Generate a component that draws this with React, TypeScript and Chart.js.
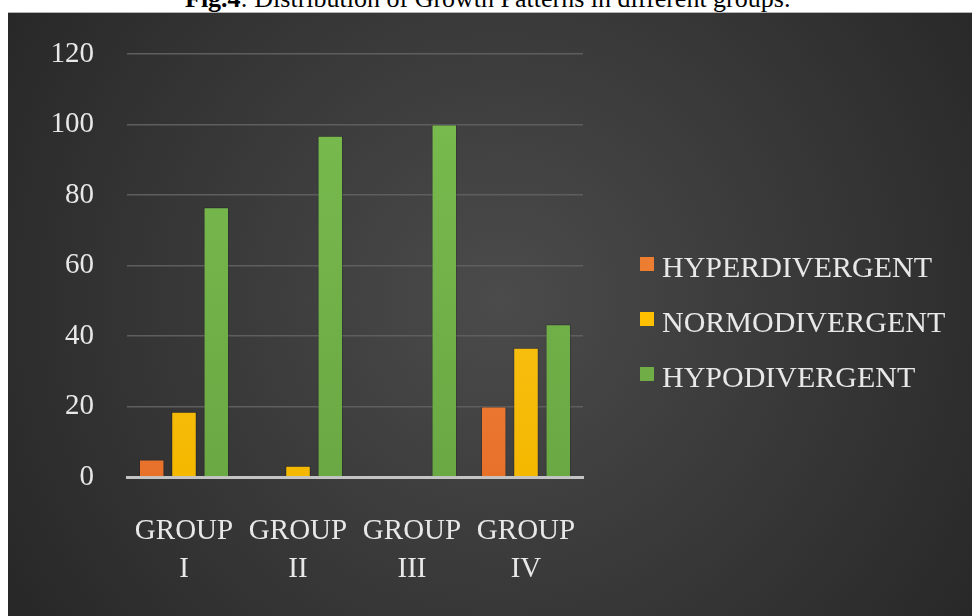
import React, { useEffect, useRef } from 'react';
import { Chart, registerables } from 'chart.js';

Chart.register(...registerables);

const categories = [['GROUP', 'I'], ['GROUP', 'II'], ['GROUP', 'III'], ['GROUP', 'IV']];
const seriesNames = ['HYPERDIVERGENT', 'NORMODIVERGENT', 'HYPODIVERGENT'];
const hyperValues = [5, 0, 0, 20];
const normoValues = [18.5, 3.2, 0, 36.7];
const hypoValues = [76.5, 96.8, 100, 43.3];
const yMin = 0;
const yMax = 120;
const yStep = 20;
const titleBold = 'Fig.4';
const titleRest = ': Distribution of Growth Patterns in different groups.';

const FONT = '"Liberation Serif"';
const TEXT = '#e8e8e8';

const seriesColors = [
  { base: '#ed7d31', top: '#f38f4e', bottom: '#e8712a' },
  { base: '#ffc000', top: '#ffca2e', bottom: '#f4b800' },
  { base: '#70ad47', top: '#7bbd50', bottom: '#6aa843' },
];

function gradFill(idx: number) {
  return (ctx: any) => {
    const chart = ctx.chart;
    const area = chart.chartArea;
    const c = seriesColors[idx];
    if (!area) return c.base;
    const g = chart.ctx.createLinearGradient(0, area.top, 0, area.bottom);
    g.addColorStop(0, c.top);
    g.addColorStop(1, c.bottom);
    return g;
  };
}

const bgPlugin = {
  id: 'darkBg',
  beforeDraw(chart: any) {
    const { ctx, width, height } = chart;
    ctx.save();
    const cx = width * 0.51;
    const cy = height * 0.475;
    const g = ctx.createRadialGradient(cx, cy, 0, cx, cy, 600);
    g.addColorStop(0, '#4b4b4b');
    g.addColorStop(1, '#262626');
    ctx.fillStyle = g;
    ctx.fillRect(0, 0, width, height);
    ctx.restore();
  },
};

const legendPlugin = {
  id: 'sideLegend',
  afterDraw(chart: any) {
    const { ctx } = chart;
    const x0 = 632;
    const rows = [254, 309, 364];
    ctx.save();
    ctx.font = `30px ${FONT}`;
    ctx.textBaseline = 'alphabetic';
    chart.data.datasets.forEach((ds: any, i: number) => {
      const y = rows[i];
      ctx.fillStyle = seriesColors[i].base;
      ctx.fillRect(x0, y - 10, 14, 14);
      ctx.fillStyle = TEXT;
      ctx.fillText(ds.label, x0 + 22, y + 10);
    });
    ctx.restore();
  },
};

export default function App() {
  const ref = useRef<HTMLCanvasElement | null>(null);

  useEffect(() => {
    document.body.style.margin = '0';
    if (!ref.current) return;
    const chart = new Chart(ref.current, {
      type: 'bar',
      data: {
        labels: categories,
        datasets: [
          { label: seriesNames[0], data: hyperValues, backgroundColor: gradFill(0) },
          { label: seriesNames[1], data: normoValues, backgroundColor: gradFill(1) },
          { label: seriesNames[2], data: hypoValues, backgroundColor: gradFill(2) },
        ].map((d) => ({
          ...d,
          categoryPercentage: 0.85,
          barPercentage: 0.79,
          borderColor: 'rgba(0,0,0,0.25)',
          borderWidth: 1,
        })),
      },
      options: {
        animation: false,
        responsive: false,
        maintainAspectRatio: false,
        layout: { padding: { left: 0, right: 389, top: 41, bottom: 0 } },
        plugins: {
          legend: { display: false },
          tooltip: { enabled: false },
          title: { display: false },
        },
        scales: {
          x: {
            grid: { display: false, drawTicks: false },
            border: { display: true, color: '#c4c4c4', width: 3 },
            ticks: {
              color: TEXT,
              font: { family: FONT, size: 29, lineHeight: 1.31 },
              padding: 35,
              maxRotation: 0,
              autoSkip: false,
            },
            afterFit(scale: any) {
              scale.height = 139;
            },
          },
          y: {
            min: yMin,
            max: yMax,
            grid: { color: '#5e5e5e', lineWidth: 1.5, drawTicks: false },
            border: { display: false },
            ticks: {
              stepSize: yStep,
              color: TEXT,
              font: { family: FONT, size: 29, lineHeight: 0.55 },
              padding: 33,
            },
            afterFit(scale: any) {
              scale.width = 119;
            },
          },
        },
      },
      plugins: [bgPlugin, legendPlugin],
    });
    return () => {
      chart.destroy();
    };
  }, []);

  return (
    <div style={{ position: 'relative', width: 972, height: 616, background: '#fff', overflow: 'hidden' }}>
      <div style={{ position: 'absolute', left: 0, top: 0, width: 972, height: 12, overflow: 'hidden' }}>
        <div
          style={{
            position: 'absolute',
            left: 185,
            top: -14,
            whiteSpace: 'nowrap',
            fontFamily: '"Liberation Serif", "Times New Roman", serif',
            fontSize: 26,
            lineHeight: '26px',
            color: '#000',
          }}
        >
          <b>{titleBold}</b>
          {titleRest}
        </div>
      </div>
      <div style={{ position: 'absolute', left: 8, top: 12, width: 964, height: 1, background: '#b4b4b4' }} />
      <canvas
        ref={ref}
        width={964}
        height={603}
        style={{ position: 'absolute', left: 8, top: 13, width: 964, height: 603, display: 'block' }}
      />
    </div>
  );
}
